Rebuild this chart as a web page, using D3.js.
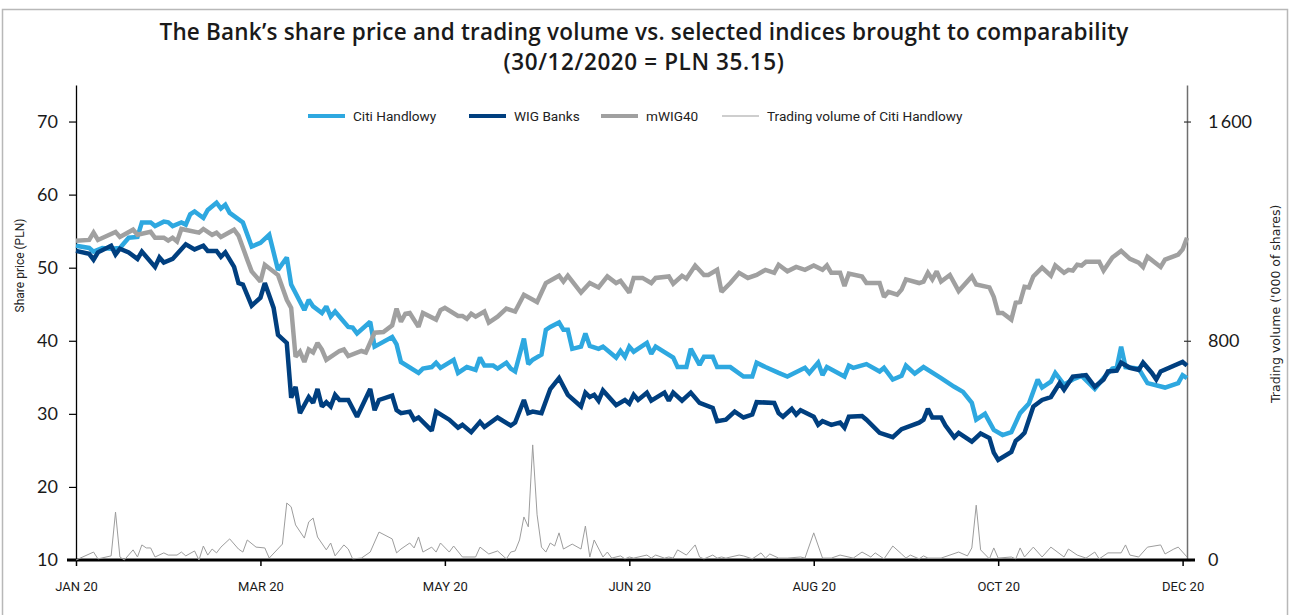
<!DOCTYPE html>
<html>
<head>
<meta charset="utf-8">
<script src="https://cdn.jsdelivr.net/npm/d3@7/dist/d3.min.js"></script>
<style>
  body { margin: 0; background: #fff; }
  svg { display: block; font-family: Roboto, sans-serif; }
</style>
</head>
<body>
<div id="chart"></div>
<script>
// values: [trading day of 2020, value]
var citiHandlowy = [[0,53.0],[3,52.7],[4,52.2],[6,52.7],[8,52.6],[10,52.7],[12,54.1],[14,54.2],[15,56.2],[17,56.2],[18,55.7],[20,56.3],[21,56.2],[22,55.7],[24,56.2],[25,55.9],[26,57.3],[27,57.7],[29,56.8],[30,57.9],[32,58.9],[33,58.1],[34,58.6],[35,57.5],[38,56.2],[40,52.9],[42,53.4],[44,54.5],[46,49.7],[48,51.4],[49,47.7],[52,44.2],[53,45.6],[54,44.7],[56,43.8],[57,44.7],[58,43.3],[59,44.0],[62,41.9],[63,41.8],[64,41.0],[67,42.6],[68,39.2],[72,40.5],[73,39.5],[74,37.1],[78,35.6],[79,36.2],[81,36.4],[82,37.0],[83,36.3],[86,37.4],[87,35.6],[89,36.4],[91,36.0],[92,37.7],[93,36.6],[95,36.6],[96,36.2],[98,37.0],[99,36.2],[100,35.8],[102,40.3],[103,36.8],[104,37.4],[106,38.1],[107,41.5],[108,41.9],[110,42.5],[111,41.5],[112,41.5],[113,38.9],[115,39.2],[116,41.0],[117,39.3],[119,38.9],[120,39.2],[123,37.7],[124,38.6],[125,37.8],[126,39.2],[127,38.5],[130,39.7],[131,38.2],[132,39.2],[136,37.7],[137,36.4],[139,36.4],[140,38.9],[142,36.7],[143,37.8],[145,37.8],[146,36.4],[149,36.4],[152,35.1],[154,35.1],[155,37.0],[157,36.4],[160,35.6],[162,35.1],[166,36.3],[167,35.6],[169,37.0],[170,35.3],[171,36.4],[175,35.1],[176,36.6],[177,36.3],[180,36.8],[183,35.8],[184,36.3],[186,34.7],[188,35.2],[189,36.6],[191,35.5],[193,36.4],[197,34.9],[200,33.7],[202,33.0],[204,31.5],[205,29.2],[207,30.0],[209,27.8],[211,27.1],[213,27.5],[214,28.8],[215,30.1],[217,31.4],[219,34.7],[220,33.6],[222,34.4],[223,35.6],[225,34.0],[227,34.7],[229,35.2],[232,33.4],[234,34.9],[236,36.2],[237,36.3],[238,39.2],[239,36.4],[242,36.2],[244,34.2],[248,33.6],[251,34.2],[252,35.3],[253,34.9]];

var wigBanks = [[0,52.3],[3,51.9],[4,51.1],[5,52.1],[8,53.0],[9,51.8],[10,52.6],[12,52.1],[14,51.2],[15,52.2],[18,50.1],[19,51.4],[20,50.7],[22,51.2],[25,53.2],[27,52.5],[29,53.0],[30,52.3],[32,52.3],[33,51.5],[34,52.1],[36,50.1],[37,47.9],[38,47.7],[40,44.8],[42,45.9],[43,47.9],[45,44.5],[46,40.8],[48,39.7],[49,32.2],[50,33.7],[51,30.1],[53,32.3],[54,31.5],[55,33.4],[56,31.0],[57,31.6],[58,31.0],[59,32.6],[60,31.9],[62,31.9],[64,29.6],[67,33.4],[68,30.5],[69,31.9],[72,32.5],[73,30.5],[74,30.1],[76,30.3],[77,29.2],[78,29.5],[81,27.7],[82,30.3],[85,29.2],[87,28.1],[88,28.5],[90,27.5],[92,28.9],[93,28.2],[96,29.5],[99,28.4],[100,28.8],[102,31.9],[103,30.1],[104,30.3],[106,30.1],[108,33.4],[110,34.9],[112,32.6],[115,31.0],[116,32.9],[117,32.3],[118,32.6],[119,31.8],[120,33.2],[123,31.2],[125,31.9],[126,31.4],[127,32.6],[128,31.9],[130,32.9],[131,31.8],[134,32.9],[135,31.8],[136,32.9],[138,31.8],[140,32.9],[142,31.5],[145,30.8],[146,29.0],[148,29.2],[150,30.3],[152,29.5],[154,29.9],[155,31.6],[159,31.5],[160,30.1],[161,29.6],[163,30.7],[164,29.9],[165,30.5],[168,29.6],[169,28.5],[170,29.0],[172,28.5],[174,28.8],[175,28.1],[176,29.6],[179,29.7],[180,29.2],[183,27.4],[186,26.8],[188,27.9],[192,28.8],[193,29.2],[194,30.7],[195,29.5],[197,29.5],[198,28.4],[200,26.8],[201,27.4],[204,26.2],[206,27.3],[208,26.7],[209,24.7],[210,23.7],[213,24.8],[214,26.3],[215,26.8],[216,27.4],[218,31.0],[220,31.9],[222,32.3],[224,34.2],[225,33.3],[227,35.1],[230,35.3],[232,33.7],[234,34.7],[235,35.8],[237,35.9],[238,37.0],[240,36.3],[242,36.0],[243,37.0],[245,35.6],[246,34.7],[247,35.8],[252,37.1],[253,36.6]];

var mWig40 = [[0,53.7],[3,53.8],[4,54.8],[5,53.8],[9,54.9],[10,54.2],[13,55.2],[14,54.5],[17,54.9],[18,54.1],[20,54.1],[21,53.7],[22,54.1],[23,53.6],[24,55.3],[28,54.8],[29,55.3],[31,54.5],[32,54.8],[33,54.2],[36,55.2],[37,54.4],[39,51.1],[40,49.5],[42,48.1],[43,50.4],[46,49.0],[48,45.6],[49,44.5],[50,37.8],[51,38.5],[52,37.1],[53,38.8],[54,38.4],[55,39.7],[56,38.8],[57,37.4],[60,38.6],[61,38.8],[62,37.9],[65,38.6],[66,38.4],[68,41.1],[70,41.2],[72,42.1],[73,44.4],[74,42.6],[75,43.7],[76,43.8],[78,41.9],[79,43.8],[82,42.9],[83,44.2],[84,44.5],[87,43.4],[88,43.4],[89,43.0],[90,43.7],[91,43.3],[93,44.0],[94,42.5],[96,43.3],[98,44.4],[100,44.0],[102,46.3],[105,45.3],[107,47.9],[110,48.9],[111,48.1],[112,48.9],[115,46.6],[117,47.9],[119,47.3],[121,48.8],[123,47.9],[124,48.2],[126,46.6],[127,48.6],[129,48.6],[131,47.9],[132,48.6],[135,48.8],[136,47.8],[138,48.9],[139,48.5],[141,50.3],[143,49.0],[144,49.0],[146,49.7],[147,46.7],[149,47.9],[151,49.3],[153,48.6],[155,49.0],[157,49.7],[159,49.3],[160,50.4],[162,49.5],[164,50.1],[166,49.7],[168,50.3],[170,49.7],[171,50.3],[172,49.3],[174,49.3],[175,47.5],[176,49.2],[179,48.8],[180,47.9],[183,47.9],[184,46.0],[185,46.7],[187,46.3],[188,47.0],[189,48.4],[192,47.9],[193,48.1],[194,49.3],[195,48.4],[196,49.5],[197,48.1],[199,49.0],[201,46.8],[204,48.8],[205,47.7],[208,47.3],[209,46.0],[210,43.8],[211,43.8],[213,42.9],[214,45.2],[215,45.3],[216,47.4],[217,47.3],[218,48.8],[220,50.0],[222,48.9],[223,50.3],[225,49.3],[226,49.7],[227,49.6],[228,50.4],[229,50.3],[230,50.8],[233,50.8],[234,49.6],[236,51.4],[238,52.3],[240,51.2],[242,50.7],[243,50.1],[244,51.5],[247,50.1],[248,51.1],[251,51.8],[252,52.5],[253,54.1]];

// trading volume, '000 of shares
var tradingVolume = [[0,0],[4,29],[5,4],[8,15],[9,175],[10,11],[11,0],[13,37],[14,11],[15,55],[16,44],[17,44],[18,11],[20,26],[21,18],[23,18],[24,29],[25,15],[27,33],[28,0],[29,51],[30,18],[31,40],[32,26],[33,47],[35,77],[37,40],[38,29],[39,73],[41,47],[43,44],[44,7],[47,58],[48,208],[49,194],[50,128],[52,80],[53,139],[54,153],[55,84],[57,37],[58,62],[59,15],[61,55],[62,40],[63,4],[65,7],[67,29],[69,102],[72,77],[73,26],[74,40],[76,62],[77,44],[78,84],[79,29],[81,47],[82,29],[83,62],[85,29],[86,51],[88,11],[91,11],[92,47],[94,22],[96,33],[98,4],[99,29],[100,33],[101,73],[102,157],[103,121],[104,420],[105,165],[106,47],[107,29],[108,62],[109,51],[110,99],[111,40],[113,58],[115,40],[116,124],[117,11],[118,73],[120,11],[121,29],[122,7],[124,15],[125,4],[126,11],[127,7],[130,18],[131,7],[132,18],[134,7],[135,11],[136,7],[137,37],[139,18],[141,55],[142,11],[143,4],[145,18],[146,7],[147,11],[148,7],[151,18],[152,15],[154,4],[156,26],[157,7],[158,22],[160,7],[162,7],[165,11],[166,7],[168,99],[170,7],[172,7],[174,18],[177,7],[179,29],[181,11],[182,26],[184,4],[186,51],[188,22],[189,7],[190,18],[192,4],[193,15],[194,7],[197,7],[201,29],[203,15],[204,44],[205,200],[206,37],[208,4],[209,44],[210,7],[213,11],[214,4],[215,44],[216,11],[218,47],[220,11],[222,47],[225,11],[226,40],[228,18],[230,7],[232,29],[233,4],[235,26],[238,26],[239,55],[240,18],[242,11],[244,47],[247,55],[248,22],[250,40],[251,47],[253,11]];

var xTickDays   = [0, 42, 84, 126, 168, 210, 252];
var xTickLabels = ["JAN 20", "MAR 20", "MAY 20", "JUN 20", "AUG 20", "OCT 20", "DEC 20"];
var priceTicks  = [10, 20, 30, 40, 50, 60, 70];
var volumeTicks = [0, 800, 1600];
var seriesNames = ["Citi Handlowy", "WIG Banks", "mWIG40", "Trading volume of Citi Handlowy"];

var colors = { citi: "#2ea8e0", wig: "#003f7f", mwig: "#a0a0a0", vol: "#9d9d9d" };

var outerWidth  = 1289;
var outerHeight = 615;
var margin = { left: 76, top: 85, right: 102, bottom: 55 };
var innerHeight = outerHeight - margin.top - margin.bottom;

var svg = d3.select("#chart").append("svg")
  .attr("width", outerWidth)
  .attr("height", outerHeight);

// outer frame (open at the bottom, like the cropped original)
svg.append("path")
  .attr("d", "M2.5," + outerHeight + "V9.5H1287.5V" + outerHeight)
  .attr("fill", "none").attr("stroke", "#b8b8b8").attr("stroke-width", 1.5);

// title
var title = svg.append("text")
  .attr("text-anchor", "middle")
  .attr("font-family", "'Open Sans', sans-serif")
  .attr("font-weight", 600)
  .attr("font-size", 22.5)
  .attr("letter-spacing", 0.2)
  .attr("fill", "#1a1a1a");
title.append("tspan").attr("x", 644).attr("y", 40)
  .text("The Bank\u2019s share price and trading volume vs. selected indices brought to comparability");
title.append("tspan").attr("x", 644).attr("y", 70).attr("letter-spacing", 0.6)
  .text("(30/12/2020 = PLN 35.15)");

// scales
var xScale = d3.scaleLinear().domain([0, 253]).range([margin.left, outerWidth - margin.right]);
var yScale = d3.scaleLinear().domain([10, 75]).range([margin.top + innerHeight, margin.top]);
var vScale = d3.scaleLinear().domain([0, 1600 * 65 / 60]).range([margin.top + innerHeight, margin.top]);

// axes
var xAxis = svg.append("g")
  .attr("transform", "translate(0," + (margin.top + innerHeight) + ")")
  .call(d3.axisBottom(xScale).tickValues(xTickDays)
    .tickFormat(function (d, i) { return xTickLabels[i]; })
    .tickSize(6).tickSizeOuter(0).tickPadding(16));
xAxis.select(".domain").remove();
xAxis.selectAll(".tick line").attr("stroke", "#000").attr("stroke-width", 1.5);
xAxis.selectAll("text").attr("font-family", "Roboto, sans-serif").attr("font-size", 13).attr("fill", "#1a1a1a");

var yAxis = svg.append("g")
  .attr("transform", "translate(" + margin.left + ",0)")
  .call(d3.axisLeft(yScale).tickValues(priceTicks).tickSize(7).tickSizeOuter(0).tickPadding(11));
yAxis.select(".domain").attr("stroke", "#000").attr("stroke-width", 1.3);
yAxis.selectAll(".tick line").attr("stroke", "#000").attr("stroke-width", 1.2);
yAxis.selectAll("text").attr("font-family", "Lato, sans-serif").attr("font-size", 18).attr("fill", "#1a1a1a");

var vAxis = svg.append("g")
  .attr("transform", "translate(" + (outerWidth - margin.right) + ",0)")
  .call(d3.axisRight(vScale).tickValues(volumeTicks)
    .tickFormat(function (d) { return d3.format(",")(d).replace(",", "\u2009"); })
    .tickSize(4).tickSizeOuter(0).tickPadding(17));
vAxis.select(".domain").attr("stroke", "#6f6f6f").attr("stroke-width", 1.5);
vAxis.selectAll(".tick line").attr("x1", -3).attr("stroke", "#333").attr("stroke-width", 1.2);
vAxis.selectAll("text").attr("font-family", "Lato, sans-serif").attr("font-size", 18).attr("fill", "#1a1a1a");

// heavy baseline under the plot
svg.append("line")
  .attr("x1", xScale.range()[0] - 9).attr("x2", xScale.range()[1] + 8)
  .attr("y1", margin.top + innerHeight).attr("y2", margin.top + innerHeight)
  .attr("stroke", "#000").attr("stroke-width", 3);

// axis titles
svg.append("text")
  .attr("transform", "translate(24," + yScale(50.3) + ") rotate(-90)")
  .attr("text-anchor", "middle")
  .attr("font-size", 12).attr("fill", "#222")
  .text("Share price (PLN)");
svg.append("text")
  .attr("transform", "translate(1280," + vScale(935) + ") rotate(-90)")
  .attr("text-anchor", "middle")
  .attr("font-family", "'DejaVu Sans', sans-serif")
  .attr("font-size", 12.5).attr("fill", "#222")
  .text("Trading volume ('000 of shares)");

// lines
var priceLine = d3.line()
  .x(function (d) { return xScale(d[0]); })
  .y(function (d) { return yScale(d[1]); });
var volumeLine = d3.line()
  .x(function (d) { return xScale(d[0]); })
  .y(function (d) { return vScale(d[1]); });

var series = [
  { data: citiHandlowy, line: priceLine, color: colors.citi, width: 4.5 },
  { data: wigBanks,     line: priceLine, color: colors.wig,  width: 4.5 },
  { data: mWig40,       line: priceLine, color: colors.mwig, width: 4.5 },
  { data: tradingVolume, line: volumeLine, color: colors.vol, width: 1 }
];

series.forEach(function (s) {
  svg.append("path")
    .datum(s.data)
    .attr("d", s.line)
    .attr("fill", "none")
    .attr("stroke", s.color)
    .attr("stroke-width", s.width)
    .attr("stroke-linejoin", "miter")
    .attr("stroke-miterlimit", 2);
});

// legend
var legendX = [308, 469, 601, 722];
var legend = svg.append("g").attr("transform", "translate(0,116)");
series.forEach(function (s, i) {
  legend.append("line")
    .attr("x1", legendX[i]).attr("x2", legendX[i] + 37)
    .attr("stroke", s.color).attr("stroke-width", s.width === 1 ? 1 : 4);
  legend.append("text")
    .attr("x", legendX[i] + 45).attr("dy", "0.35em")
    .attr("font-size", 13.6).attr("fill", "#222")
    .text(seriesNames[i]);
});
</script>
</body>
</html>
